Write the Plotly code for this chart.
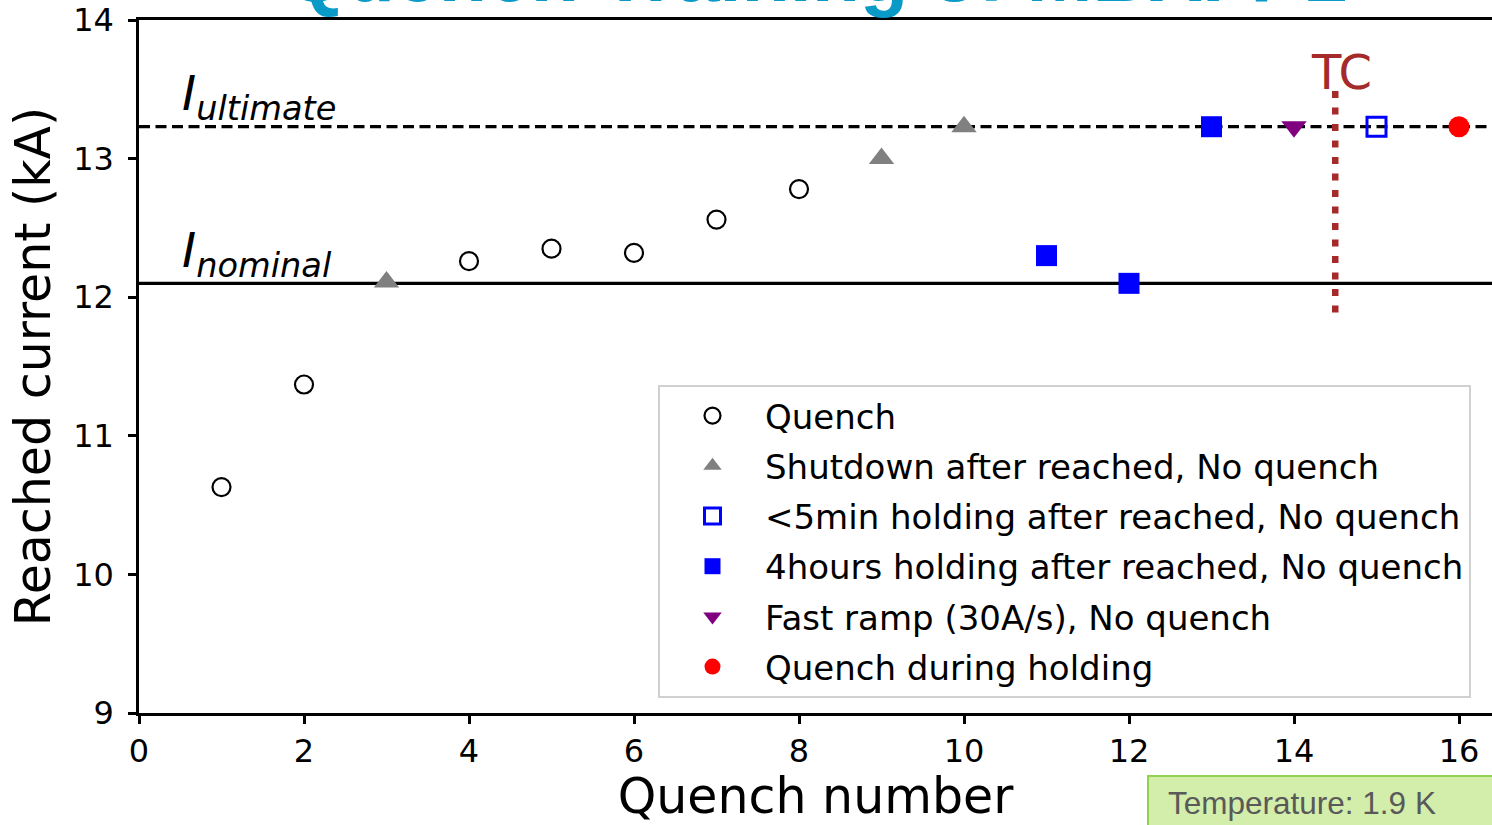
import plotly.graph_objects as go

# Quench training data (reached current in kA per quench number)
quench_x = [1, 2, 4, 5, 6, 7, 8]
quench_y = [10.63, 11.37, 12.26, 12.35, 12.32, 12.56, 12.78]

shutdown_x = [3, 9, 10]
shutdown_y = [12.11, 13.00, 13.23]

short_hold_x = [15]
short_hold_y = [13.23]

long_hold_x = [11, 12, 13]
long_hold_y = [12.30, 12.10, 13.23]

fast_ramp_x = [14]
fast_ramp_y = [13.23]

hold_quench_x = [16]
hold_quench_y = [13.23]

I_nominal = 12.10
I_ultimate = 13.23
tc_x = 14.5
tc_span = [11.89, 13.49]

x_ticks = [0, 2, 4, 6, 8, 10, 12, 14, 16]
y_ticks = [9, 10, 11, 12, 13, 14]

FONT = "DejaVu Sans"

fig = go.Figure()

# reference current levels
fig.add_trace(go.Scatter(x=[0, 16.4], y=[I_ultimate, I_ultimate], mode="lines",
                         line=dict(color="black", width=3.2, dash="11px,5.5px"),
                         showlegend=False, hoverinfo="skip"))
fig.add_trace(go.Scatter(x=[0, 16.4], y=[I_nominal, I_nominal], mode="lines",
                         line=dict(color="black", width=3.2),
                         showlegend=False, hoverinfo="skip"))
# thermal cycle marker
fig.add_trace(go.Scatter(x=[tc_x, tc_x], y=tc_span, mode="lines",
                         line=dict(color="#a52a2a", width=6.5, dash="7px,9.5px"),
                         showlegend=False, hoverinfo="skip"))

series = [
    ("Quench", quench_x, quench_y,
     dict(symbol="circle-open", size=18, color="black", line=dict(width=2.2, color="black"))),
    ("Shutdown after reached, No quench", shutdown_x, shutdown_y,
     dict(symbol="triangle-up", size=22, color="gray", line=dict(width=0))),
    ("<5min holding after reached, No quench", short_hold_x, short_hold_y,
     dict(symbol="square-open", size=19, color="blue", line=dict(width=3, color="blue"))),
    ("4hours holding after reached, No quench", long_hold_x, long_hold_y,
     dict(symbol="square", size=21, color="blue", line=dict(width=0))),
    ("Fast ramp (30A/s), No quench", fast_ramp_x, fast_ramp_y,
     dict(symbol="triangle-down", size=22, color="purple", line=dict(width=0))),
    ("Quench during holding", hold_quench_x, hold_quench_y,
     dict(symbol="circle", size=21, color="red", line=dict(width=0))),
]
for i, (name, xs, ys, mk) in enumerate(series):
    fig.add_trace(go.Scatter(x=xs, y=ys, mode="markers", name=name, marker=mk,
                             legendgroup=f"g{i}"))

annotations = [
    dict(x=0.5, y=I_ultimate - 0.025, xref="x", yref="y", xanchor="left", yanchor="bottom",
         text="<i>I</i><sub><i>ultimate</i></sub>", showarrow=False,
         font=dict(family=FONT, size=48, color="black")),
    dict(x=0.5, y=I_nominal - 0.025, xref="x", yref="y", xanchor="left", yanchor="bottom",
         text="<i>I</i><sub><i>nominal</i></sub>", showarrow=False,
         font=dict(family=FONT, size=48, color="black")),
    dict(x=14.58, y=13.41, xref="x", yref="y", xanchor="center", yanchor="bottom",
         text="TC", showarrow=False,
         font=dict(family=FONT, size=48, color="#a52a2a")),
    dict(x=0.5, y=1.0003, xref="paper", yref="paper", xanchor="center", yanchor="bottom",
         text="<b>Quench Training of MBXFP1</b>", showarrow=False,
         font=dict(family="Liberation Sans", size=79, color="#0a9ac8")),
    dict(x=(1166 - 139) / 1353, y=-(823 - 713) / 693, xref="paper", yref="paper",
         xanchor="left", yanchor="bottom", text="Temperature: 1.9 K", showarrow=False,
         font=dict(family="Liberation Sans", size=31.5, color="#595959")),
]

shapes = [
    dict(type="rect", xref="paper", yref="paper",
         x0=(1148 - 139) / 1353, x1=1.05, y0=-(840 - 713) / 693, y1=-(776 - 713) / 693,
         fillcolor="#d3edaa", line=dict(color="#92d050", width=2), layer="below"),
]

fig.update_layout(
    width=1492, height=825,
    margin=dict(l=139, r=0, t=20, b=112),
    plot_bgcolor="white", paper_bgcolor="white",
    font=dict(family=FONT, color="black"),
    annotations=annotations,
    shapes=shapes,
    legend=dict(
        x=(658 - 139) / 1353, y=1 - (385 - 20) / 693, xanchor="left", yanchor="top",
        bgcolor="white", bordercolor="#d0d0d0", borderwidth=2,
        font=dict(family=FONT, size=34, color="black"),
        tracegroupgap=3, itemwidth=95,
    ),
    xaxis=dict(
        range=[0, 16.4], tickvals=x_ticks, ticks="outside", ticklen=8, tickwidth=2.5,
        tickcolor="black", showline=True, linecolor="black", linewidth=2.5, mirror=True,
        showgrid=False, zeroline=False, tickfont=dict(size=32),
        title=dict(text="Quench number", font=dict(size=49), standoff=16),
    ),
    yaxis=dict(
        range=[9, 14], tickvals=y_ticks, ticks="outside", ticklen=8, tickwidth=2.5,
        tickcolor="black", showline=True, linecolor="black", linewidth=2.5,
        showgrid=False, zeroline=False, tickfont=dict(size=32), ticklabelstandoff=8,
        title=dict(text="Reached current (kA)", font=dict(size=49), standoff=7),
    ),
)

fig.write_html("out.html")
